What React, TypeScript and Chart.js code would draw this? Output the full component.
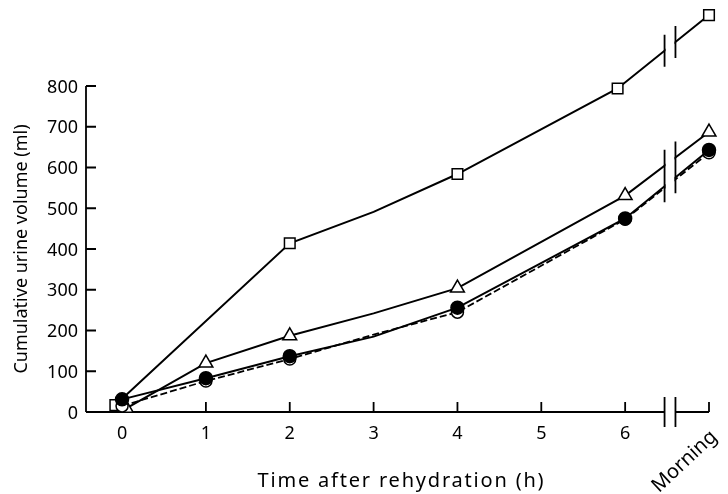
import React, { useEffect, useRef } from "react";
import { Chart, registerables } from "chart.js";

Chart.register(...registerables);

// ---- Data ----
const xTickValues = [0, 1, 2, 3, 4, 5, 6, 7];
const xTickLabels = ["0", "1", "2", "3", "4", "5", "6", "Morning"];
const yTickValues = [0, 100, 200, 300, 400, 500, 600, 700, 800];

const squareX = [-0.08, 2, 3, 4, 5.91, 7];
const squareY = [17, 414, 491, 584, 794, 974];
const squareMarker = [true, true, false, true, true, true];

const triangleX = [0.05, 1, 2, 3, 4, 6, 7];
const triangleY = [9, 120, 187, 242, 304, 531, 687];
const triangleMarker = [true, true, true, false, true, true, true];

const filledX = [0, 1, 2, 3, 4, 6, 7];
const filledY = [31, 83, 137, 185, 256, 475, 643];
const filledMarker = [true, true, true, false, true, true, true];

const openX = [0, 1, 2, 3, 4, 6, 7];
const openY = [15, 76, 130, 190, 245, 473, 636];
const openMarker = [true, true, true, false, true, true, true];

const BREAK_START = 6.47;
const BREAK_END = 6.6;

const FONT = '"Noto Sans", sans-serif';
const FONT_SIZE = 18;
const X_TITLE_SIZE = 20;
const Y_TITLE = "Cumulative urine volume (ml)";
const X_TITLE = "Time after rehydration (h)";

const pts = (xs: number[], ys: number[]) => xs.map((x, i) => ({ x, y: ys[i] }));
const radii = (flags: boolean[], r: number) => flags.map((f) => (f ? r : 0));

const axesPlugin = {
  id: "customAxes",
  beforeDatasetsDraw(chart: any) {
    const { ctx, chartArea, scales } = chart;
    const x = scales.x;
    const y = scales.y;
    const x0 = chartArea.left;
    const yb = y.getPixelForValue(0);
    ctx.save();
    ctx.strokeStyle = "#000";
    ctx.lineWidth = 1.8;
    ctx.beginPath();
    ctx.moveTo(x0, y.getPixelForValue(800));
    ctx.lineTo(x0, yb);
    yTickValues.forEach((v) => {
      const py = y.getPixelForValue(v);
      ctx.moveTo(x0, py);
      ctx.lineTo(x0 + 10, py);
    });
    ctx.moveTo(x0, yb);
    ctx.lineTo(x.getPixelForValue(BREAK_START), yb);
    ctx.moveTo(x.getPixelForValue(BREAK_END), yb);
    ctx.lineTo(chartArea.right, yb);
    xTickValues.forEach((v) => {
      const px = x.getPixelForValue(v);
      ctx.moveTo(px, yb);
      ctx.lineTo(px, yb - 10);
    });
    ctx.stroke();

    // tick labels
    ctx.fillStyle = "#000";
    ctx.font = `${FONT_SIZE}px ${FONT}`;
    ctx.textAlign = "right";
    ctx.textBaseline = "alphabetic";
    yTickValues.forEach((v) => {
      ctx.fillText(String(v), x0 - 8, y.getPixelForValue(v) + 6.6);
    });
    ctx.textAlign = "center";
    xTickValues.forEach((v, i) => {
      if (i < 7) ctx.fillText(xTickLabels[i], x.getPixelForValue(v), yb + 27);
    });
    ctx.restore();
  },
  afterDatasetsDraw(chart: any) {
    const { ctx, scales } = chart;
    const x = scales.x;
    const y = scales.y;
    const yb = y.getPixelForValue(0);
    const b1 = x.getPixelForValue(BREAK_START);
    const b2 = x.getPixelForValue(BREAK_END);
    ctx.save();
    ctx.fillStyle = "#fff";
    ctx.fillRect(b1 + 1, 0, b2 - b1 - 2, yb + 20);
    ctx.strokeStyle = "#000";
    ctx.lineWidth = 1.8;
    ctx.beginPath();
    [b1, b2].forEach((bx) => {
      ctx.moveTo(bx, yb - 15);
      ctx.lineTo(bx, yb + 15);
    });
    [3, 2, 0].forEach((di) => {
      const meta = chart.getDatasetMeta(di);
      const d = meta.data;
      const p1 = d[d.length - 2];
      const p2 = d[d.length - 1];
      const yAt = (px: number) => p1.y + ((p2.y - p1.y) * (px - p1.x)) / (p2.x - p1.x);
      [b1, b2].forEach((bx) => {
        const py = yAt(bx);
        ctx.moveTo(bx, py - 16);
        ctx.lineTo(bx, py + 16);
      });
    });
    ctx.stroke();
    ctx.restore();
  },
  afterDraw(chart: any) {
    const { ctx, scales, chartArea } = chart;
    const x = scales.x;
    const y = scales.y;
    ctx.save();
    ctx.fillStyle = "#000";
    // Morning label
    ctx.save();
    ctx.font = `${X_TITLE_SIZE}px ${FONT}`;
    ctx.translate(x.getPixelForValue(7) + 5, y.getPixelForValue(0) + 22);
    ctx.rotate((-43 * Math.PI) / 180);
    ctx.textAlign = "right";
    ctx.textBaseline = "middle";
    ctx.fillText(xTickLabels[7], 0, 0);
    ctx.restore();
    // x title
    ctx.save();
    ctx.font = `${X_TITLE_SIZE}px ${FONT}`;
    (ctx as any).letterSpacing = "1.8px";
    ctx.textAlign = "center";
    ctx.textBaseline = "middle";
    ctx.fillText(X_TITLE, (chartArea.left + chartArea.right) / 2 + 4, 481);
    ctx.restore();
    // y title, centred on the 0–800 axis
    ctx.font = `${FONT_SIZE}px ${FONT}`;
    const cy = (y.getPixelForValue(0) + y.getPixelForValue(800)) / 2;
    ctx.translate(chartArea.left - 64, cy);
    ctx.rotate(-Math.PI / 2);
    ctx.textAlign = "center";
    ctx.textBaseline = "middle";
    ctx.fillText(Y_TITLE, 0, 0);
    ctx.restore();
  },
};

export default function App() {
  const canvasRef = useRef<HTMLCanvasElement | null>(null);

  useEffect(() => {
    if (!canvasRef.current) return;
    const common = {
      borderColor: "#000",
      borderWidth: 2,
      pointBorderColor: "#000",
      pointBorderWidth: 1.5,
      clip: false as any,
      tension: 0,
    };
    const chart = new Chart(canvasRef.current, {
      type: "line",
      data: {
        datasets: [
          {
            ...common,
            label: "filled circles",
            data: pts(filledX, filledY),
            pointStyle: "circle",
            pointRadius: radii(filledMarker, 6.5),
            pointBackgroundColor: "#000",
          },
          {
            ...common,
            label: "open circles",
            data: pts(openX, openY),
            borderDash: [7, 3],
            borderWidth: 1.8,
            pointStyle: "circle",
            pointRadius: radii(openMarker, 6),
            pointBackgroundColor: "#fff",
          },
          {
            ...common,
            label: "triangles",
            data: pts(triangleX, triangleY),
            pointStyle: "triangle",
            pointRadius: radii(triangleMarker, 8),
            pointBackgroundColor: "#fff",
          },
          {
            ...common,
            label: "squares",
            data: pts(squareX, squareY),
            pointStyle: "rect",
            pointRadius: radii(squareMarker, 7.5),
            pointBackgroundColor: "#fff",
          },
        ],
      },
      options: {
        animation: false,
        responsive: false,
        events: [],
        layout: { autoPadding: false, padding: { left: 86, top: 4.5, right: 19, bottom: 82 } },
        plugins: { legend: { display: false }, tooltip: { enabled: false } },
        scales: {
          x: { type: "linear", display: false, min: -0.43, max: 7 },
          y: { type: "linear", display: false, min: 0, max: 1000 },
        },
      },
      plugins: [axesPlugin],
    });
    return () => chart.destroy();
  }, []);

  return (
    <div style={{ position: "fixed", left: 0, top: 0, width: 728, height: 494, background: "#fff" }}>
      <canvas ref={canvasRef} width={728} height={494} style={{ display: "block" }} />
    </div>
  );
}
